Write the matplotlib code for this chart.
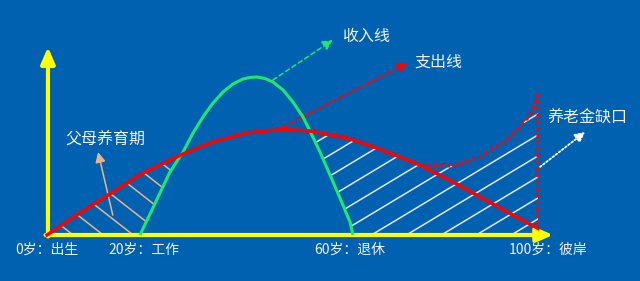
import numpy as np
import matplotlib.pyplot as plt
from matplotlib.patches import Polygon

plt.rcParams['font.family'] = ['Noto Sans CJK SC', 'DejaVu Sans']

BG = '#0061b0'
YELLOW = '#ffff00'
GREEN = '#1ee86e'
RED = '#ff0000'
TAN = '#e8b48a'
TXT = '#f2f2f2'

# income line (green), x ~ age position, y ~ amount
income_x = [18.94, 20.98, 23.01, 25.05, 27.70, 29.74, 31.77, 33.81, 35.85, 37.88, 39.92, 41.34,
            42.77, 44.40, 46.03, 48.07, 50.10, 52.14, 53.56, 55.60, 57.64, 59.67, 61.71, 62.32]
income_y = [0, 11.17, 22.34, 33.51, 44.15, 54.26, 62.77, 70.21, 76.06, 80.32, 82.98, 83.78,
            84.04, 83.24, 81.38, 77.13, 70.74, 62.77, 55.32, 44.15, 31.91, 19.68, 6.91, 0]

# spending line (red)
spend_x = [0, 6.7, 12.8, 19.6, 27.7, 33.8, 40.7, 48.1, 53.6, 61.1, 67.8, 76.0, 82.7, 90.8, 94.9, 100.0]
spend_y = [0, 11.7, 21.8, 33.0, 43.1, 49.5, 54.3, 56.2, 55.3, 51.6, 45.7, 37.2, 28.2, 16.5, 10.6, 3.5]

# pension gap (dotted red)
gap_x = [76.0, 82.7, 88.2, 93.7, 96.3, 98.4, 99.4, 100.0, 100.0]
gap_y = [37.2, 36.7, 41.5, 50.5, 57.4, 63.8, 70.2, 74.5, 3.5]

tick_pos = [0, 19.7, 61.7, 102.0]
tick_labels = ['0岁：出生', '20岁：工作', '60岁：退休', '100岁：彼岸']


def hatch(ax, pts, angle, gap, anchor, color, lw):
    poly = Polygon(pts, closed=True, fill=False, edgecolor='none')
    ax.add_patch(poly)
    disp = ax.transData.transform(np.array(pts))
    a = np.radians(angle)
    d = np.array([np.cos(a), np.sin(a)])
    n = np.array([-np.sin(a), np.cos(a)])
    proj = disp @ n
    a0 = ax.transData.transform(anchor) @ n
    k0 = int(np.floor((proj.min() - a0) / gap))
    k1 = int(np.ceil((proj.max() - a0) / gap))
    inv = ax.transData.inverted()
    for k in range(k0, k1 + 1):
        c = n * (a0 + k * gap)
        seg = inv.transform(np.array([c - 3000 * d, c + 3000 * d]))
        line, = ax.plot(seg[:, 0], seg[:, 1], color=color, lw=lw, zorder=1)
        line.set_clip_path(poly)


def arrow(ax, start, end, color, ls, lw, head=0.6):
    ax.annotate('', xy=end, xytext=start,
                arrowprops=dict(arrowstyle=f'-|>,head_length={head},head_width=0.3',
                                color=color, lw=lw, linestyle=ls,
                                shrinkA=0, shrinkB=0, mutation_scale=10))


fig = plt.figure(figsize=(6.4, 2.81), dpi=100, facecolor=BG)
ax = fig.add_axes([0, 0, 1, 1])
ax.set_facecolor(BG)
ax.set_xlim(-9.57, 120.77)
ax.set_ylim(-24.47, 125.0)
ax.set_autoscale_on(False)
ax.axis('off')

# hatched areas
left_poly = list(zip(spend_x[:5], spend_y[:5])) + list(zip(income_x[3::-1], income_y[3::-1]))
hatch(ax, left_poly, -38, 18.5, (11.2, 0.5), TAN, 1.1)

right_poly = (list(zip(income_x[18:], income_y[18:])) + [(100.0, 0)]
              + list(zip(gap_x[7::-1], gap_y[7::-1]))
              + list(zip(spend_x[10:7:-1], spend_y[10:7:-1])))
hatch(ax, right_poly, 31, 18, (67.8, 2.7), '#e6e6e6', 1.1)

# axes
ax.annotate('', xy=(103.1, 0), xytext=(-0.3, 0),
            arrowprops=dict(arrowstyle='-|>,head_length=0.7,head_width=0.3', color=YELLOW,
                            lw=3, shrinkA=0, shrinkB=0, mutation_scale=14), zorder=3)
ax.annotate('', xy=(0.2, 100), xytext=(0.2, -0.8),
            arrowprops=dict(arrowstyle='-|>,head_length=0.7,head_width=0.3', color=YELLOW,
                            lw=3, shrinkA=0, shrinkB=0, mutation_scale=14), zorder=3)

# curves
ax.plot(income_x, income_y, color=GREEN, lw=2.2, zorder=4, solid_capstyle='butt')
ax.plot(spend_x, spend_y, color=RED, lw=2.5, zorder=5)
ax.plot(gap_x, gap_y, color=RED, lw=2.3, ls=(0, (1, 1.1)), zorder=5)

# pointer arrows
arrow(ax, (46.0, 82.4), (58.2, 103.7), GREEN, (0, (3, 2)), 1.1)
arrow(ax, (48.1, 57.5), (73.5, 91.5), RED, (0, (2.5, 1.8)), 1.3)
arrow(ax, (13.4, 10.6), (10.4, 44.1), TAN, '-', 1.1)
arrow(ax, (100.4, 36.2), (109.6, 54.8), 'white', (0, (1, 1.2)), 1.3)

# labels
ax.text(60.1, 105.9, '收入线', color=TXT, fontsize=11.5, va='center', ha='left')
ax.text(74.9, 92.0, '支出线', color=TXT, fontsize=11.5, va='center', ha='left')
ax.text(3.7, 50.5, '父母养育期', color=TXT, fontsize=11.5, va='center', ha='left')
ax.text(102.0, 62.2, '养老金缺口', color=TXT, fontsize=11.5, va='center', ha='left')

for pos, lab in zip(tick_pos, tick_labels):
    ax.text(pos, -8.0, lab, color=TXT, fontsize=10, ha='center', va='center')

fig.savefig('out.png', dpi=100, facecolor=BG)
